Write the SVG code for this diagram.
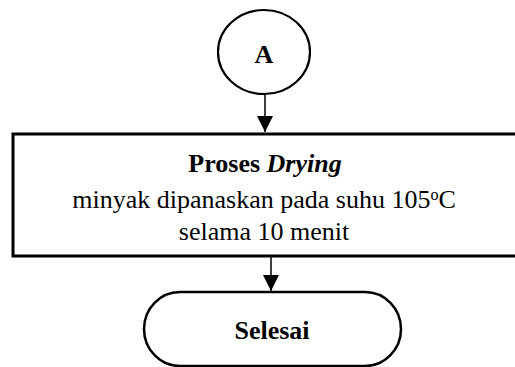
<svg xmlns="http://www.w3.org/2000/svg" width="515" height="367" viewBox="0 0 515 367">
  <style>
    .shape { fill: #ffffff; stroke: #000000; }
    .label { font-family: "Liberation Serif", "Times New Roman", serif; font-size: 26px; fill: #000000; text-anchor: middle; }
    .bold { font-weight: bold; }
    .link { stroke: #000000; stroke-width: 1.5; fill: none; }
  </style>
  <defs>
    <marker id="arrow" markerUnits="userSpaceOnUse" markerWidth="16" markerHeight="16" viewBox="0 0 16 16" refX="16" refY="8" orient="auto">
      <path d="M0,0 L16,8 L0,16 Z" fill="#000000"/>
    </marker>
  </defs>
  <rect width="515" height="367" fill="#ffffff"/>

  <!-- Off-page connector A -->
  <g id="node-a">
    <ellipse class="shape" cx="264" cy="52" rx="46" ry="42" stroke-width="2.2"/>
    <text class="label bold" x="264" y="63" font-size="28">A</text>
  </g>

  <!-- Drying process step -->
  <g id="node-drying">
    <rect class="shape" x="13" y="134" width="510" height="122" stroke-width="3"/>
    <text class="label" x="265" y="172"><tspan class="bold">Proses </tspan><tspan class="bold" font-style="italic">Drying</tspan></text>
    <text class="label" x="264" y="208">minyak dipanaskan pada suhu 105<tspan font-size="16" baseline-shift="8">o</tspan>C</text>
    <text class="label" x="264" y="240">selama 10 menit</text>
  </g>

  <!-- Terminator -->
  <g id="node-selesai">
    <rect class="shape" x="144" y="292" width="257" height="74" rx="36" ry="37" stroke-width="2.5"/>
    <text class="label bold" x="272" y="339">Selesai</text>
  </g>

  <g id="connectors">
    <line class="link" x1="265" y1="94" x2="265" y2="132" marker-end="url(#arrow)"/>
    <line class="link" x1="271" y1="256" x2="271" y2="291" marker-end="url(#arrow)"/>
  </g>
</svg>
